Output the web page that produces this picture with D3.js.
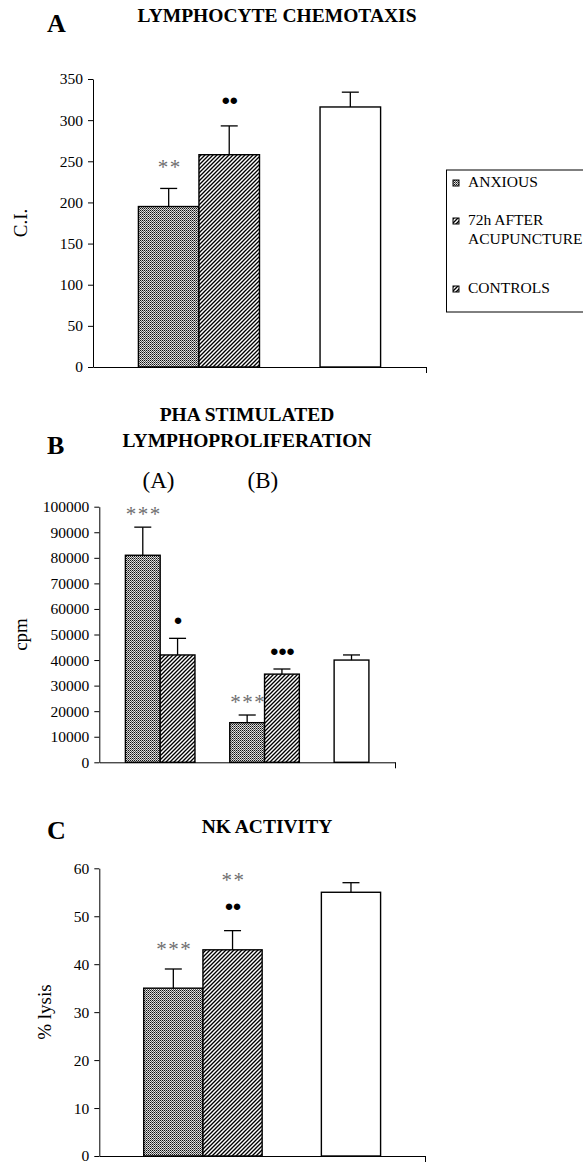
<!DOCTYPE html>
<html>
<head>
<meta charset="utf-8">
<script src="https://cdn.jsdelivr.net/npm/d3@7"></script>
<style>
  body { margin: 0; background: #fff; }
  text { font-family: "Liberation Serif", "Times New Roman", serif; }
</style>
</head>
<body>
<svg id="chart" width="583" height="1162" font-family="Liberation Serif"></svg>
<script>
// groups: 0 = ANXIOUS, 1 = 72h AFTER ACUPUNCTURE, 2 = CONTROLS, null = empty slot
var seriesNames = ["ANXIOUS", "72h AFTER\nACUPUNCTURE", "CONTROLS"];

// A - lymphocyte chemotaxis
var chemoGroups = [0, 1, null, 2];
var chemoMeans  = [195, 258, null, 316];
var chemoSem    = [22, 35, null, 18];
var chemoTicks  = [0, 50, 100, 150, 200, 250, 300, 350];
var chemoStars  = ["**", "", null, ""];
var chemoDots   = ["", "●●", null, ""];

// B - PHA stimulated lymphoproliferation
var phaGroups = [0, 1, null, 0, 1, null, 2];
var phaMeans  = [81000, 42000, null, 15500, 34500, null, 40000];
var phaSem    = [11000, 6500, null, 3000, 2000, null, 2000];
var phaTicks  = [0, 10000, 20000, 30000, 40000, 50000, 60000, 70000, 80000, 90000, 100000];
var phaStars  = ["***", "", null, "***", "", null, ""];
var phaDots   = ["", "●", null, "", "●●●", null, ""];
var phaSubsets = ["(A)", "(B)"];

// C - NK activity
var nkGroups = [0, 1, null, 2];
var nkMeans  = [35, 43, null, 55];
var nkSem    = [4, 4, null, 2];
var nkTicks  = [0, 10, 20, 30, 40, 50, 60];
var nkStars  = ["***", "**", null, ""];
var nkDots   = ["", "●●", null, ""];

var svg = d3.select("#chart");
var defs = svg.append("defs");

// fine grey checker texture (anxious)
var pd = defs.append("pattern").attr("id", "pat0")
  .attr("patternUnits", "userSpaceOnUse").attr("width", 2).attr("height", 2);
[[0,0,"#111"],[1,1,"#5a5a5a"],[1,0,"#cfcfcf"],[0,1,"#e8e8e8"]].forEach(function(p){
  pd.append("rect").attr("x", p[0]).attr("y", p[1]).attr("width", 1).attr("height", 1).attr("fill", p[2]);
});

// wide diagonal stripes (72h after)
var pw = defs.append("pattern").attr("id", "pat1")
  .attr("patternUnits", "userSpaceOnUse").attr("width", 4).attr("height", 4);
pw.append("rect").attr("width", 4).attr("height", 4).attr("fill", "#fff");
pw.append("path").attr("d", "M-1,1 L1,-1 M0,4 L4,0 M3,5 L5,3")
  .attr("stroke", "#000").attr("stroke-width", 1.35);

var fills = ["url(#pat0)", "url(#pat1)", "#fff"];

function drawPanel(p) {
  var g = svg.append("g");

  var x = d3.scaleBand().domain(d3.range(p.groups.length))
    .range([p.left, p.right]).paddingInner(0).paddingOuter(0.75);
  var y = d3.scaleLinear().domain([0, d3.max(p.ticks)]).range([p.bottom, p.top]);

  // panel letter + title
  g.append("text").attr("x", 47).attr("y", p.letterY)
    .attr("font-size", 26).attr("font-weight", "bold").text(p.letter);
  p.title.forEach(function(t, i){
    g.append("text").attr("x", p.titleX).attr("y", p.titleY + i * 26)
      .attr("text-anchor", "middle").attr("font-size", 19.5).attr("font-weight", "bold")
      .text(t);
  });

  // y axis
  var ya = g.append("g").attr("transform", "translate(" + p.left + ",0)")
    .call(d3.axisLeft(y).tickValues(p.ticks).tickFormat(d3.format("d"))
      .tickSize(5).tickSizeOuter(0).tickPadding(5));
  ya.attr("font-family", "Liberation Serif").attr("font-size", 15.5);
  ya.selectAll("text").attr("fill", "#000");
  ya.selectAll("line,path").attr("stroke", "#000");

  // x axis (no labels, end tick only)
  var xl = d3.scaleLinear().domain([0, 1]).range([p.left, p.right]);
  var xa = g.append("g").attr("transform", "translate(0," + p.bottom + ")")
    .call(d3.axisBottom(xl).tickValues([1]).tickFormat("").tickSize(6).tickSizeOuter(0));
  xa.selectAll("line,path").attr("stroke", "#000");

  g.append("text")
    .attr("transform", "translate(" + p.labelX + "," + ((p.top + p.bottom) / 2) + ") rotate(-90)")
    .attr("text-anchor", "middle").attr("font-size", 19).text(p.yLabel);

  var idx = d3.range(p.groups.length).filter(function(i){ return p.groups[i] !== null; });

  // bars
  g.selectAll("rect.bar").data(idx).enter().append("rect")
    .attr("class", "bar")
    .attr("x", function(i){ return x(i); })
    .attr("y", function(i){ return y(p.means[i]); })
    .attr("width", x.bandwidth())
    .attr("height", function(i){ return y(0) - y(p.means[i]); })
    .attr("fill", function(i){ return fills[p.groups[i]]; })
    .attr("stroke", "#000").attr("stroke-width", 1.4);

  // error bars
  var cx = function(i){ return x(i) + x.bandwidth() / 2; };
  var top = function(i){ return y(p.means[i] + p.sem[i]); };
  g.selectAll("line.err").data(idx).enter().append("line")
    .attr("x1", cx).attr("x2", cx)
    .attr("y1", function(i){ return y(p.means[i]); }).attr("y2", top)
    .attr("stroke", "#000").attr("stroke-width", 1.3);
  g.selectAll("line.cap").data(idx).enter().append("line")
    .attr("x1", function(i){ return cx(i) - 8.5; }).attr("x2", function(i){ return cx(i) + 8.5; })
    .attr("y1", top).attr("y2", top)
    .attr("stroke", "#000").attr("stroke-width", 1.3);

  // significance marks
  idx.forEach(function(i){
    var yy = top(i) - p.markGap;
    if (p.dots[i]) {
      g.append("text").attr("x", cx(i)).attr("y", yy + 5)
        .attr("text-anchor", "middle").attr("font-family", "DejaVu Sans")
        .attr("font-size", 15).attr("letter-spacing", -1).text(p.dots[i]);
      yy -= 31;
    }
    if (p.stars[i]) {
      g.append("text").attr("x", cx(i) + 1).attr("y", yy + 12)
        .attr("text-anchor", "middle").attr("font-family", "Liberation Sans")
        .attr("font-size", 21).attr("letter-spacing", 1.5).attr("fill", "#6e6e6e")
        .text(p.stars[i]);
    }
  });

  return x;
}

drawPanel({
  letter: "A", letterY: 32, title: ["LYMPHOCYTE CHEMOTAXIS"], titleX: 277, titleY: 22,
  left: 93, right: 426, top: 79, bottom: 367, labelX: 27, yLabel: "C.I.",
  groups: chemoGroups, means: chemoMeans, sem: chemoSem, ticks: chemoTicks,
  stars: chemoStars, dots: chemoDots, markGap: 26
});

var xb = drawPanel({
  letter: "B", letterY: 454, title: ["PHA STIMULATED", "LYMPHOPROLIFERATION"], titleX: 247, titleY: 421,
  left: 99.3, right: 395, top: 506.7, bottom: 762.3, labelX: 27, yLabel: "cpm",
  groups: phaGroups, means: phaMeans, sem: phaSem, ticks: phaTicks,
  stars: phaStars, dots: phaDots, markGap: 18
});
phaSubsets.forEach(function(t, k){
  svg.append("text").attr("x", xb(k * 3) + xb.bandwidth() * 0.95).attr("y", 488)
    .attr("text-anchor", "middle").attr("font-size", 23).text(t);
});

drawPanel({
  letter: "C", letterY: 839, title: ["NK ACTIVITY"], titleX: 267, titleY: 833,
  left: 99.3, right: 425, top: 868.3, bottom: 1156, labelX: 51, yLabel: "% lysis",
  groups: nkGroups, means: nkMeans, sem: nkSem, ticks: nkTicks,
  stars: nkStars, dots: nkDots, markGap: 25
});

// legend
var lg = svg.append("g");
lg.append("rect").attr("x", 446.5).attr("y", 170).attr("width", 160).attr("height", 142)
  .attr("fill", "#fff").attr("stroke", "#000").attr("stroke-width", 1);
var legY = [187, 225, 293];
var legFill = ["url(#pat0)", "url(#pat1)", "url(#pat1)"];
seriesNames.forEach(function(name, i){
  lg.append("rect").attr("x", 453).attr("y", legY[i] - 7).attr("width", 6).attr("height", 6)
    .attr("fill", legFill[i]).attr("stroke", "#000").attr("stroke-width", 1);
  name.split("\n").forEach(function(line, j){
    lg.append("text").attr("x", 468).attr("y", legY[i] + j * 18.5)
      .attr("font-size", 15.5).text(line);
  });
});
</script>
</body>
</html>
